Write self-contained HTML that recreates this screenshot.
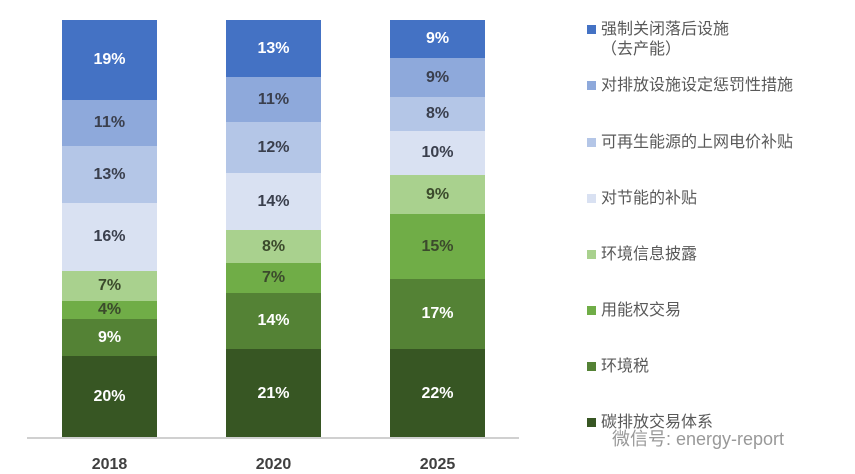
<!DOCTYPE html><html><head><meta charset="utf-8"><style>
body{margin:0;background:#fff;width:855px;height:472px;overflow:hidden;position:relative;font-family:"Liberation Sans","Noto Sans CJK SC",sans-serif}
.s{position:absolute;display:flex;align-items:center;justify-content:center;color:#fff;font-weight:bold;font-size:16px;font-family:"Liberation Sans","Noto Sans CJK SC",sans-serif}
.lg{position:absolute;left:587px;font-size:16px;color:#595959;line-height:20px}
.lg i{position:absolute;left:0;top:5px;width:9px;height:9px}
.lg span{margin-left:14px}
.yr{position:absolute;top:456px;width:95px;text-align:center;font-size:16px;font-weight:bold;color:#404040}
</style></head><body>
<div id="c"></div>
<div style="position:absolute;left:27px;top:437px;width:492px;height:2px;background:#d0d0d0"></div>
<div class="yr" style="left:62px">2018</div><div class="yr" style="left:226px">2020</div><div class="yr" style="left:390px">2025</div>
<div class="lg" style="top:20px"><i style="background:#4472C4"></i><span>强制关闭落后设施</span><br><span>（去产能）</span></div>
<div class="lg" style="top:76px"><i style="background:#8EA9DB"></i><span>对排放设施设定惩罚性措施</span></div>
<div class="lg" style="top:133px"><i style="background:#B4C6E7"></i><span>可再生能源的上网电价补贴</span></div>
<div class="lg" style="top:189px"><i style="background:#D9E1F2"></i><span>对节能的补贴</span></div>
<div class="lg" style="top:245px"><i style="background:#A9D18E"></i><span>环境信息披露</span></div>
<div class="lg" style="top:301px"><i style="background:#70AD47"></i><span>用能权交易</span></div>
<div class="lg" style="top:357px"><i style="background:#548235"></i><span>环境税</span></div>
<div class="lg" style="top:413px"><i style="background:#375623"></i><span>碳排放交易体系</span></div>
<div style="position:absolute;left:612px;top:425px;font-size:18px;color:#999">微信号: energy-report</div>
<script>
var cols=["#4472C4","#8EA9DB","#B4C6E7","#D9E1F2","#A9D18E","#70AD47","#548235","#375623"];
var tc=["#fff","#3a3f4d","#3a3f4d","#3a3f4d","#3b4a2c","#3b4a2c","#fff","#fff"];
var data=[[62,[20,100,146,203,271,301,319,356,438],["19%","11%","13%","16%","7%","4%","9%","20%"]],
[226,[20,77,122,173,230,263,293,349,438],["13%","11%","12%","14%","8%","7%","14%","21%"]],
[390,[20,58,97,131,175,214,279,349,438],["9%","9%","8%","10%","9%","15%","17%","22%"]]];
var h="";
data.forEach(function(d){for(var i=0;i<8;i++){var t=d[1][i],b=d[1][i+1];
h+='<div class="s" style="left:'+d[0]+'px;top:'+t+'px;width:95px;height:'+(b-t)+'px;background:'+cols[i]+';color:'+tc[i]+'">'+d[2][i]+'</div>';}});
document.getElementById("c").innerHTML=h;
</script>
</body></html>
